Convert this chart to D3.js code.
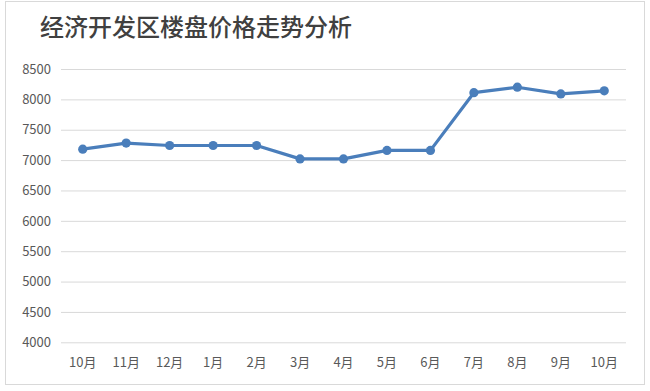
<!DOCTYPE html>
<html><head><meta charset="utf-8">
<script src="https://cdn.jsdelivr.net/npm/d3@7"></script>
<style>
html,body{margin:0;padding:0;background:#fff;}
svg{display:block;}
text{font-family:"Noto Sans CJK SC","Noto Sans",sans-serif;}
</style></head>
<body>
<svg id="c" width="650" height="391"></svg>
<script>
const title = "经济开发区楼盘价格走势分析";
const categories = ["10月","11月","12月","1月","2月","3月","4月","5月","6月","7月","8月","9月","10月"];
const prices = [7180, 7280, 7240, 7240, 7240, 7020, 7020, 7160, 7160, 8110, 8200, 8090, 8140];
const yTicks = [4000,4500,5000,5500,6000,6500,7000,7500,8000,8500];

(function(){
const svg = d3.select("#c");
svg.append("rect").attr("x",5.5).attr("y",1.5).attr("width",639).attr("height",383)
  .attr("fill","#fff").attr("stroke","#d9d9d9").attr("stroke-width",1);

const m = {left:61, right:626, top:69, bottom:342.3};
const x = d3.scaleBand().domain(d3.range(categories.length)).range([m.left,m.right]).padding(0);
const y = d3.scaleLinear().domain([4000,8500]).range([m.bottom,m.top]);

svg.append("text").attr("x",40).attr("y",36).text(title)
  .attr("font-size",24).attr("font-weight",500).attr("fill","#404040");

const yAxis = d3.axisLeft(y).tickValues(yTicks).tickSize(-(m.right-m.left)).tickFormat(d3.format("d")).tickPadding(10);
const gy = svg.append("g").attr("transform",`translate(${m.left},0)`).call(yAxis);
gy.select(".domain").remove();
gy.selectAll(".tick line").attr("stroke","#d9d9d9").attr("stroke-width",1);
gy.selectAll(".tick text").attr("font-size",13).attr("fill","#595959")
  .attr("font-family","'Liberation Sans',Arial,sans-serif");

const xAxis = d3.axisBottom(x).tickFormat(i=>categories[i]).tickSize(0).tickPadding(15);
const gx = svg.append("g").attr("transform",`translate(0,${m.bottom})`).call(xAxis);
gx.select(".domain").remove();
gx.selectAll(".tick text").attr("font-size",13).attr("fill","#595959");

const cx = i => x(i) + x.bandwidth()/2;
const line = d3.line().x((d,i)=>cx(i)).y(d=>y(d));
svg.append("path").datum(prices).attr("d",line).attr("fill","none")
  .attr("stroke","#4a7ebb").attr("stroke-width",3.2).attr("stroke-linejoin","round");
svg.selectAll("circle.pt").data(prices).enter().append("circle").attr("class","pt")
  .attr("cx",(d,i)=>cx(i)).attr("cy",d=>y(d)).attr("r",4.6).attr("fill","#4a7ebb");
})();
</script>
</body></html>
